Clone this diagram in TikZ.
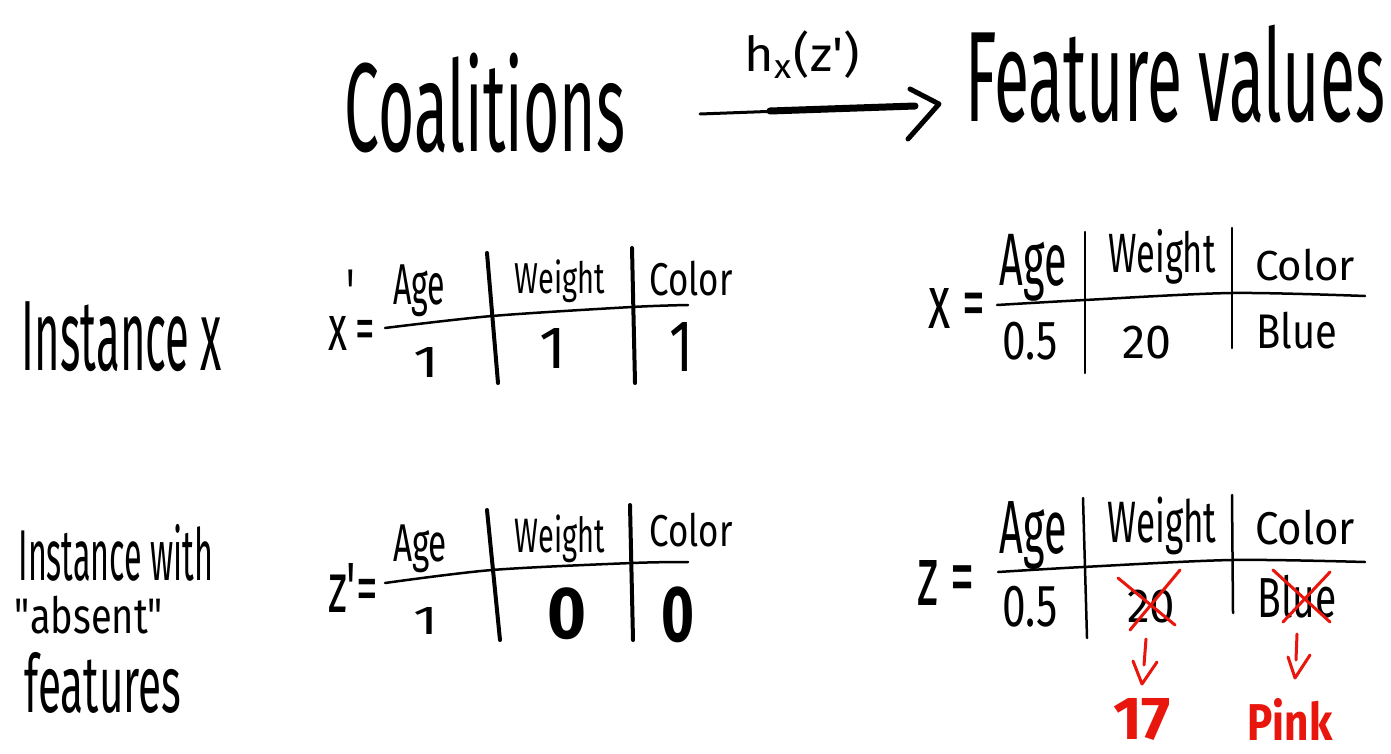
\documentclass[tikz,border=0pt]{standalone}
\usepackage{fontspec}
\setmainfont{Fira Sans}
\usepackage{graphicx}
\definecolor{inkred}{RGB}{232,22,12}
\newcommand{\fitbox}[3]{\resizebox*{#1pt}{#2pt}{#3}}
\tikzset{
  txt/.style={inner sep=0pt, outer sep=0pt},
  redtxt/.style={txt, text=inkred, font=\bfseries},
  pen/.style={line width=3pt, line cap=round, line join=round},
  thickpen/.style={pen, line width=4pt},
  redpen/.style={pen, draw=inkred, line width=3pt}
}
\begin{document}
\begin{tikzpicture}[x=1pt,y=-1pt]
\useasboundingbox (0,0) rectangle (1391,754);
\fill[white] (0,0) rectangle (1391,754);

% ---- title row ----
\node[txt] (coal) at (485,103) {\fitbox{280}{100}{Coalitions}};
\node[txt] (feat) at (1175,74) {\fitbox{420}{98}{Feature values}};
\node[txt] (hx) at (802,55) {\fitbox{115}{48}{h\textsubscript{x}(z\textquotesingle)}};
\coordinate (arrS) at (700,114);
\coordinate (arrM) at (770,111);
\coordinate (arrE) at (915,106);
\coordinate (hdA) at (910,89);
\coordinate (hdT) at (939,104);
\coordinate (hdB) at (908,139);
\draw[pen, line width=3pt] (arrS) -- (arrE);
\draw[pen, line width=7pt] (arrM) -- (arrE);
\draw[pen, line width=5pt] (hdA) -- (hdT) -- (hdB);

% ---- left labels ----
\node[txt] (inst) at (122,337) {\fitbox{200}{70}{Instance x}};
\node[txt] (abs1) at (116,553) {\fitbox{195}{57}{Instance with}};
\node[txt] (abs2) at (89,615) {\fitbox{148}{38}{\textquotedbl absent\textquotedbl}};
\node[txt] (abs3) at (103,683) {\fitbox{157}{61}{features}};

% ---- table x' ----
\node[txt] (xpeq) at (351.5,310) {\fitbox{47}{80}{x\raisebox{0.55em}{\textquotesingle}=}};
\draw[pen, line width=2.5pt] plot[smooth] coordinates {(385,328) (492,316) (632,307) (688,305)};
\draw[thickpen] (487,253) -- (498,383);
\draw[thickpen] (632,248) -- (635,383);
\node[txt] (xpage) at (419,291) {\fitbox{52}{52}{Age}};
\node[txt] (xpwt) at (560,281) {\fitbox{90}{43}{Weight}};
\node[txt] (xpcol) at (691,279) {\fitbox{83}{35}{Color}};
\node[txt] (xpv1) at (426,362) {\fitbox{26}{30}{1}};
\node[txt] (xpv2) at (553,348) {\fitbox{27}{40}{1}};
\node[txt] (xpv3) at (681,347) {\fitbox{24}{49}{1}};

% ---- table z' ----
\node[txt] (zpeq) at (353,587.5) {\fitbox{50}{49}{z\textquotesingle=}};
\draw[pen, line width=2.5pt] plot[smooth] coordinates {(385,583) (492,570) (632,563) (688,562)};
\draw[thickpen] (487,510) -- (500,640);
\draw[thickpen] (630,505) -- (633,640);
\node[txt] (zpage) at (420,549) {\fitbox{54}{48}{Age}};
\node[txt] (zpwt) at (560,539) {\fitbox{90}{48}{Weight}};
\node[txt] (zpcol) at (691,530) {\fitbox{83}{34}{Color}};
\node[txt] (zpv1) at (426,621) {\fitbox{25}{27}{1}};
\node[txt] (zpv2) at (567,614) {\fitbox{39}{52}{\bfseries 0}};
\node[txt] (zpv3) at (678,615) {\fitbox{33}{56}{\bfseries 0}};

% ---- table x ----
\node[txt] (xeq) at (956.5,308) {\fitbox{57}{40}{x =}};
\draw[pen, line width=2.5pt] plot[smooth] coordinates {(997,305) (1085,300) (1232,293) (1365,296)};
\draw[pen, line width=2.5pt] (1085,232) -- (1085,373);
\draw[pen, line width=2.5pt] (1232,228) -- (1232,348);
\node[txt] (xage) at (1033,268) {\fitbox{67}{67}{Age}};
\node[txt] (xwt) at (1162,257) {\fitbox{107}{55}{Weight}};
\node[txt] (xcol) at (1305,265) {\fitbox{100}{32}{Color}};
\node[txt] (xv1) at (1030,341) {\fitbox{55}{38}{0.5}};
\node[txt] (xv2) at (1147,343) {\fitbox{49}{33}{20}};
\node[txt] (xv3) at (1297,331) {\fitbox{81}{37}{Blue}};

% ---- table z ----
\node[txt] (zeq) at (946,582.5) {\fitbox{58}{45}{z =}};
\draw[pen, line width=2.5pt] plot[smooth] coordinates {(998,572) (1083,567) (1232,560) (1365,562)};
\draw[pen, line width=2.5pt] (1083,498) -- (1087,638);
\draw[pen, line width=2.5pt] (1232,495) -- (1233,613);
\node[txt] (zage) at (1033,536) {\fitbox{67}{68}{Age}};
\node[txt] (zwt) at (1162,526) {\fitbox{109}{58}{Weight}};
\node[txt] (zcol) at (1305,528) {\fitbox{100}{35}{Color}};
\node[txt] (zv1) at (1030,607) {\fitbox{55}{41}{0.5}};
\node[txt] (zv2) at (1151,607) {\fitbox{48}{33}{20}};
\node[txt] (zv3) at (1297,597) {\fitbox{79}{43}{Blue}};

% red crossings
\draw[redpen] (1118,578) -- (1175,625);
\draw[redpen] (1180,570) -- (1130,630);
\draw[redpen] (1273,570) -- (1330,622);
\draw[redpen] (1330,572) -- (1283,622);

% red replacement values
\node[redtxt] (r17) at (1142,719) {\fitbox{58}{42}{\bfseries 17}};
\node[redtxt] (rpink) at (1290,719) {\fitbox{85}{42}{\bfseries Pink}};

% red arrows
\coordinate (ra1s) at (1146,639);
\coordinate (ra1t) at (1142,684);
\coordinate (ra1l) at (1133,661);
\coordinate (ra1r) at (1157,662);
\draw[redpen] (ra1s) -- (1144,665);
\draw[redpen] (ra1l) -- (ra1t) -- (ra1r);
\coordinate (ra2s) at (1297,634);
\coordinate (ra2t) at (1295,678);
\coordinate (ra2l) at (1288,657);
\coordinate (ra2r) at (1310,655);
\draw[redpen] (ra2s) -- (1296,660);
\draw[redpen] (ra2l) -- (ra2t) -- (ra2r);
\end{tikzpicture}
\end{document}
